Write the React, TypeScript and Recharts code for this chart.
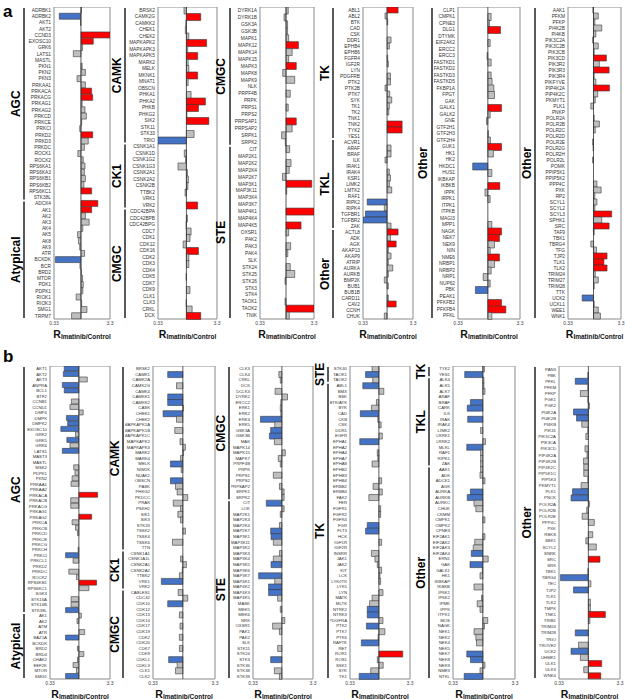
import React from "react";
import { BarChart, Bar, XAxis, YAxis, Cell, ReferenceLine, ReferenceArea } from "recharts";

// R(imatinib/control) per kinase (log axis 0.33 .. 3.3)
const a1Kinases = [
  "ADRBK1", "ADRBK2", "AKT1", "AKT2", "CCND3", "EXOSC10", "GRK6", "LATS1", "MASTL", "PKN1",
  "PKN2", "PKN3", "PRKAA1", "PRKACA", "PRKACG", "PRKAG1", "PRKAG2", "PRKCD", "PRKCE", "PRKCI",
  "PRKD2", "PRKD3", "PRKDC", "ROCK1", "ROCK2", "RPS6KA1", "RPS6KA3", "RPS6KB1", "RPS6KB2", "RPS6KC1",
  "STK38L", "ADCK4", "AK1", "AK2", "AK3", "AK4", "AK5", "AK8", "AK9", "ATR",
  "BCKDK", "BCR", "BRD2", "MTOR", "PDK1", "PDPK1", "RIOK1", "RIOK3", "SMG1", "TRPM7",
];
const a1Ratio = [
  1.02, 0.41, 0.98, 1.0, 3.3, 1.66, 1.07, 0.73, 1.0, 1.05,
  1.2, 0.85, 1.2, 1.55, 1.62, 1.05, 1.18, 1.25, 1.03, 0.95,
  1.62, 1.35, 1.15, 0.88, 1.1, 1.18, 1.15, 1.2, 1.13, 1.55,
  1.0, 2.0, 1.55, 1.2, 1.4, 1.08, 0.87, 0.9, 0.95, 1.16,
  0.35, 0.96, 1.02, 1.07, 1.1, 1.08, 0.82, 1.03, 1.28, 0.68,
];
const a1Groups: [string, number][] = [["AGC", 31], ["Atypical", 19]];

const a2Kinases = [
  "BRSK2", "CAMK2G", "CAMKK2", "CHEK1", "CHEK2", "MAPKAPK2", "MAPKAPK3", "MAPKAPK5", "MARK2", "MELK",
  "MKNK1", "MNAT1", "OBSCN", "PHKA1", "PHKA2", "PHKB", "PHKG2", "SIK2", "STK11", "STK33",
  "TRIO", "CSNK1A1", "CSNK1D", "CSNK1G2", "CSNK1G3", "CSNK2A1", "CSNK2A2", "CSNK2B", "TTBK2", "VRK1",
  "VRK2", "CDC42BPA", "CDC42BPB", "CDC42BPG", "CDC7", "CDK1", "CDK12", "CDK16", "CDK2", "CDK3",
  "CDK4", "CDK5", "CDK7", "CDK9", "CLK1", "CLK3", "CRKL", "DCK",
];
const a2Ratio = [
  0.91, 1.75, 0.98, 0.96, 1.1, 2.2, 1.05, 1.55, 1.07, 1.1,
  1.55, 1.07, 1.0, 1.2, 2.1, 1.6, 1.02, 2.4, 1.0, 1.35,
  0.33, 1.0, 0.92, 0.97, 0.72, 1.04, 1.08, 1.06, 0.95, 1.0,
  1.55, 1.0, 1.04, 0.99, 1.2, 1.15, 0.88, 1.6, 1.1, 1.1,
  1.0, 0.99, 1.0, 1.15, 1.0, 0.99, 1.25, 1.75,
];
const a2Groups: [string, number][] = [["CAMK", 21], ["CK1", 10], ["CMGC", 17]];

const a3Kinases = [
  "DYRK1A", "DYRK1B", "GSK3A", "GSK3B", "MAPK1", "MAPK12", "MAPK14", "MAPK15", "MAPK3", "MAPK8",
  "MAPK9", "NLK", "PRPF4B", "PRPK", "PRPS1", "PRPS2", "PRPSAP1", "PRPSAP2", "SRPK1", "SRPK2",
  "CIT", "MAP2K1", "MAP2K2", "MAP2K4", "MAP2K7", "MAP3K1", "MAP3K11", "MAP3K4", "MAP3K7", "MAP4K1",
  "MAP4K4", "MAP4K5", "OXSR1", "PAK2", "PAK3", "PAK4", "SLK", "STK24", "STK25", "STK26",
  "STK3", "STK4", "TAOK1", "TAOK2", "TNIK",
];
const a3Ratio = [
  1.1, 0.92, 1.07, 1.07, 1.12, 1.7, 1.3, 1.12, 1.55, 0.87,
  1.45, 1.0, 1.2, 1.0, 1.1, 1.0, 1.55, 1.3, 0.83, 0.97,
  1.17, 1.0, 1.24, 1.15, 0.86, 3.0, 1.03, 1.0, 1.0, 3.3,
  1.0, 1.9, 1.12, 1.0, 1.22, 1.08, 1.0, 1.2, 1.45, 0.96,
  1.0, 1.0, 0.96, 3.3, 1.15,
];
const a3Groups: [string, number][] = [["CMGC", 20], ["STE", 25]];

const a4Kinases = [
  "ABL1", "ABL2", "BTK", "CAD", "CSK", "DDR1", "EPHB4", "EPHB6", "FGFR4", "IGF2R",
  "LYN", "PDGFRB", "PTK2", "PTK2B", "PTK7", "SYK", "TK1", "TK2", "TNK1", "TNK2",
  "TYK2", "YES1", "ACVR1", "ARAF", "BRAF", "ILK", "IRAK1", "IRAK4", "KSR1", "LIMK2",
  "LMTK2", "RAF1", "RIPK2", "RIPK4", "TGFBR1", "TGFBR2", "ZAK", "ACTL8", "ADK", "AGK",
  "AKAP13", "AKAP9", "ATRIP", "AURKA", "AURKB", "BMP2K", "BUB1", "BUB1B", "CARD11", "CAV2",
  "CCNH", "CHUK",
];
const a4Ratio = [
  1.66, 0.91, 1.03, 1.0, 1.0, 1.2, 1.11, 1.0, 1.03, 1.06,
  1.0, 1.17, 1.17, 0.91, 1.13, 1.24, 1.11, 1.08, 1.0, 2.0,
  2.0, 1.0, 1.0, 1.2, 1.2, 0.91, 1.0, 1.11, 1.17, 1.11,
  1.24, 1.0, 0.4, 0.88, 0.37, 0.33, 1.2, 1.66, 1.17, 1.52,
  1.06, 1.2, 1.06, 1.3, 1.06, 0.88, 1.06, 1.0, 1.06, 1.52,
  1.0, 0.88,
];
const a4Groups: [string, number][] = [["TK", 22], ["TKL", 15], ["Other", 15]];

const a5Kinases = [
  "CLP1", "CMPK1", "CPNE3", "DLG1", "DTYMK", "EIF2AK2", "ERCC2", "ERCC3", "FASTKD1", "FASTKD2",
  "FASTKD3", "FASTKD5", "FKBP1A", "FPGT", "GAK", "GALK1", "GALK2", "GNE", "GTF2H1", "GTF2H3",
  "GTF2H4", "GUK1", "HK1", "HK2", "HKDC1", "HUS1", "IKBKAP", "IKBKB", "IPPK", "IRPK1",
  "ITPK1", "ITPKB", "MAGI3", "MPP1", "NAGK", "NEK7", "NEK9", "NIN", "NME6", "NRBP1",
  "NRBP2", "NRP1", "NUP62", "PBK", "PEAK1", "PFKFB2", "PFKFB4", "PFKL",
];
const a5Ratio = [
  1.0, 1.13, 1.06, 1.6, 1.0, 1.09, 1.0, 0.97, 1.13, 1.0,
  1.13, 1.17, 1.25, 1.28, 1.0, 1.66, 1.09, 0.95, 1.0, 1.02,
  1.1, 1.66, 1.23, 1.0, 0.57, 1.16, 1.0, 1.56, 0.9, 1.09,
  1.0, 1.0, 1.0, 1.16, 1.66, 1.54, 1.28, 1.09, 1.54, 1.28,
  1.13, 0.84, 1.09, 0.63, 1.0, 1.66, 1.95, 1.16,
];
const a5Groups: [string, number][] = [["Other", 48]];

const a6Kinases = [
  "AAK1", "PFKM", "PFKP", "PI4K2B", "PI4KB", "PIK3C2A", "PIK3C2B", "PIK3CB", "PIK3CD", "PIK3R2",
  "PIK3R3", "PIK3R4", "PIKFYVE", "PIP4K2A", "PIP4K2C", "PKMYT1", "PLK1", "PNKP", "POLR2A", "POLR2B",
  "POLR2C", "POLR2D", "POLR2E", "POLR2G", "POLR2H", "POLR2L", "POMK", "PPIP5K1", "PPIP5K2", "PPP4C",
  "PXK", "RP2", "SCYL1", "SCYL2", "SCYL3", "SPHK1", "SRC", "TAF9", "TBK1", "TBRG4",
  "TFG", "TJP2", "TLK1", "TLK2", "TRIM24", "TRIM27", "TRIM28", "TTK", "UCK2", "UCKL1",
  "WEE1", "WNK1",
];
const a6Ratio = [
  0.97, 1.23, 1.06, 1.43, 1.11, 0.96, 1.23, 1.03, 1.75, 1.29,
  1.97, 1.03, 1.11, 2.0, 1.2, 1.08, 0.89, 1.0, 1.03, 1.29,
  1.08, 1.0, 0.96, 0.98, 1.0, 0.96, 1.0, 1.0, 1.0, 1.16,
  1.39, 1.06, 1.16, 1.06, 2.2, 1.43, 1.97, 1.03, 1.0, 0.89,
  1.14, 1.8, 1.57, 1.8, 1.08, 1.23, 1.03, 1.0, 0.61, 1.03,
  1.23, 1.35,
];
const a6Groups: [string, number][] = [["Other", 52]];

const b1Kinases = [
  "AKT1", "AKT2", "AKT3", "ANPRA", "BCL1", "BTF2", "CCNB1", "CCND1", "DMP4", "DMPK",
  "DMPK2", "EXOSC10", "GRK2", "GRK5", "GRK6", "LATS1", "MAST3", "MASTL", "MSK2", "PDPK1",
  "PKN2", "PRKAA1", "PRKAA2", "PRKACA", "PRKACB", "PRKACG", "PRKAG1", "PRKAG2", "PRKCA", "PRKCB",
  "PRKCD", "PRKCE", "PRKCG", "PRKCH", "PRKCI", "PRKCL1", "PRKD2", "PRKDC", "ROCK2", "RPS6KB1",
  "RPS6KC1", "SGK3", "STK16A", "STK16B", "STK38L", "AK1", "AK2", "ATM", "ATR", "BAZ1A",
  "BCKDK", "BRD2", "BRD4", "CHAK2", "EEF2K", "MTOR", "SMG1",
];
const b1Ratio = [
  0.57, 0.55, 1.38, 0.53, 0.57, 1.0, 0.75, 0.71, 1.18, 0.62,
  0.65, 0.5, 0.88, 0.63, 0.71, 0.53, 1.0, 1.0, 0.82, 0.86,
  0.77, 0.74, 1.0, 2.05, 0.73, 0.73, 1.0, 1.63, 0.77, 0.88,
  0.95, 1.0, 1.0, 0.97, 0.6, 0.8, 1.0, 0.68, 0.91, 1.97,
  1.47, 1.0, 0.74, 0.74, 0.6, 1.1, 0.93, 1.0, 1.25, 0.6,
  1.0, 0.95, 1.21, 0.95, 0.8, 0.91, 0.6,
];
const b1Groups: [string, number][] = [["AGC", 45], ["Atypical", 12]];

const b2Kinases = [
  "BRSK2", "CAMK1", "CAMK2A", "CAMK2G", "CAMK4", "CAMKK1", "CAMKK2", "CASK", "CHEK1", "CHEK2",
  "MAPKAPK1A", "MAPKAPK1B", "MAPKAPK1C", "MAPKAPK2", "MAPKAPK3", "MARK2", "MARK4", "MELK", "NIM1K", "NUAK2",
  "OBSCN", "PASK", "PHKG2", "PKDCC", "PRAK", "PSKH2", "SIK1", "SIK3", "STK33", "TSSK2",
  "TSSK4", "TSSK6", "TTN", "CSNK1A1", "CSNK1A1L", "CSNK2A1", "CSNK2A2", "TTBK2", "VRK1", "VRK2",
  "CABLES1", "CDC42", "CDK10", "CDK12", "CDK13", "CDK14", "CDK17", "CDK19", "CDK2", "CDK20",
  "CDK7", "CDK9", "CDKL1", "CDKL3", "CLK1", "CLK2",
];
const b2Ratio = [
  1.0, 0.57, 1.0, 0.79, 1.0, 0.57, 0.57, 1.02, 0.48, 0.79,
  1.0, 0.74, 1.0, 0.9, 1.1, 1.02, 0.92, 0.63, 0.94, 1.0,
  0.63, 0.76, 0.81, 1.2, 0.7, 0.92, 0.83, 0.92, 1.0, 1.1,
  1.0, 0.68, 1.0, 1.0, 0.92, 1.14, 0.98, 0.88, 0.45, 1.0,
  0.84, 1.2, 0.57, 1.0, 0.88, 1.0, 0.9, 1.0, 0.88, 1.0,
  0.88, 1.0, 0.59, 0.81, 0.76, 1.0,
];
const b2Groups: [string, number][] = [["CAMK", 33], ["CK1", 7], ["CMGC", 16]];

const b3Kinases = [
  "CLK3", "CLK4", "CRKL", "DCK", "DCLK3", "DYRK2", "ERCC2", "ERK1", "ERK2", "ERK3",
  "ERK5", "GSK3A", "GSK3B", "MAK", "MAPK14", "MAPK15", "MAPK7", "PRPF4B", "PRPK", "PRPS1",
  "PRPS2", "PRPSAP2", "SRPK1", "SRPK2", "CIT", "LOK", "MAP2K1", "MAP2K3", "MAP2K4", "MAP2K7",
  "MAP3K1", "MAP3K11", "MAP3K2", "MAP3K3", "MAP3K4", "MAP3K5", "MAP3K6", "MAP3K7", "MAP4K1", "MAP4K2",
  "MAP4K3", "MAP4K5", "MASK", "MEK5", "MEK6", "NRK", "OXSR1", "PAK1", "PAK2", "SLK",
  "STK11", "STK24", "STK3", "STK36", "STK38", "STK39",
];
const b3Ratio = [
  1.0, 0.89, 0.94, 1.0, 0.77, 1.24, 0.96, 0.94, 0.96, 0.44,
  0.76, 0.65, 0.62, 0.75, 1.0, 1.14, 0.87, 0.94, 1.0, 0.72,
  1.0, 0.91, 1.09, 1.09, 0.55, 1.09, 0.94, 1.0, 0.91, 0.65,
  0.66, 0.72, 1.0, 0.91, 0.72, 0.66, 1.0, 0.41, 0.76, 0.6,
  0.6, 0.85, 1.0, 0.94, 1.0, 1.12, 0.7, 0.91, 1.0, 1.0,
  0.85, 1.0, 0.65, 1.0, 0.75, 0.91,
];
const b3Groups: [string, number][] = [["CMGC", 24], ["STE", 32]];

const b4Kinases = [
  "STK40", "TAOK1", "TAOK2", "ABL1", "BMX", "BSK", "BTK/ATK", "BYK", "CAD", "CKB",
  "CSK", "DDR1", "EGFR", "EPHA1", "EPHA2", "EPHA4", "EPHA7", "EPHA8", "EPHB2", "EPHB3",
  "EPHB4", "ERBB2", "ERBB4", "FAK2", "FER", "FGFR1", "FGFR2", "FGFR4", "FGR", "FLT3",
  "HCK", "IGF1R", "IGF2R", "INSRR", "JAK1", "JAK2", "KIT", "LCK", "LYK/ITK", "LYK5",
  "LYN", "MATK", "MLTK", "NTRK2", "NTRK3", "PDGFRA", "PTK2", "PTK7", "PTK6", "RAFTK",
  "RET", "ROR1", "ROS1", "SSK1", "SYK", "TK1",
];
const b4Ratio = [
  0.77, 0.6, 0.79, 0.54, 1.21, 1.0, 0.91, 0.75, 0.49, 0.96,
  1.09, 1.0, 1.14, 0.48, 1.0, 0.94, 0.96, 0.77, 1.0, 1.0,
  1.11, 0.8, 1.14, 0.68, 1.0, 1.07, 1.07, 1.0, 0.64, 0.6,
  1.0, 1.11, 1.0, 0.75, 0.86, 0.94, 1.11, 1.04, 1.07, 1.0,
  1.17, 0.77, 0.7, 0.64, 0.64, 1.17, 0.62, 1.26, 0.97, 0.51,
  1.0, 2.5, 0.94, 1.18, 0.73, 0.47,
];
const b4Groups: [string, number][] = [["STE", 3], ["TK", 53]];

const b5Kinases = [
  "TYK2", "YES1", "ALK4", "ALK5", "ALK7", "ARAF", "BRAF", "CARK", "ILK", "IRAK",
  "IRAK4", "LIMK2", "LRRK1", "LRRK2", "MLKL", "RAF1", "RIPK1", "ZAK", "AAK1", "ADK",
  "ADCK1", "AGK", "AURKA", "AURKB", "AURKC", "CHUK", "CKMM", "CMPK1", "CMPK2", "CPNE3",
  "EIF2AK1", "EIF2AK2", "EIF2AK3", "EIF2AK4", "ERN1", "GAK", "GALK1", "HK1", "IKBKAP", "IKBKB",
  "IP6K1", "IP6K2", "IPMK", "IPPK", "ITPK1", "MOS", "NAGK", "NEK1", "NEK2", "NEK4",
  "NEK5", "NEK7", "NEK8", "NEK9", "NME3", "NTKL",
];
const b5Ratio = [
  1.06, 0.51, 1.04, 1.04, 1.08, 1.0, 0.63, 0.56, 1.0, 0.57,
  1.0, 0.92, 1.0, 1.1, 0.55, 0.92, 0.92, 0.92, 0.92, 0.9,
  1.08, 1.0, 0.63, 0.56, 0.72, 0.77, 1.0, 1.08, 1.0, 1.0,
  1.08, 0.74, 0.7, 0.65, 1.22, 0.62, 0.98, 0.9, 1.0, 0.72,
  1.0, 0.95, 0.81, 0.9, 1.0, 1.2, 1.06, 0.72, 0.77, 0.79,
  1.0, 0.55, 0.63, 1.08, 0.9, 0.5,
];
const b5Groups: [string, number][] = [["TK", 2], ["TKL", 16], ["Other", 38]];

const b6Kinases = [
  "PAN3", "PBK", "PFKL", "PFKM", "PFKP", "PGK1", "PGK2", "PI4K2A", "PI4K2B", "PI4KB",
  "PIK31", "PIK3C2A", "PIK3CA", "PIK3CD", "PIP4K2A", "PIP4K2B", "PIP4K2C", "PIP5K1C", "PIP5K3", "PKMYT1",
  "PLK1", "PNCK", "POLR2A", "POLR2B", "POLR2E", "PPP4C", "PXK", "RBKS", "SBK1", "SCYL2",
  "SNRK", "SRC", "SRK", "TBK1", "TBRG4", "TEC", "TJP2", "TLK1", "TLK2", "TMPK",
  "TNK1", "TRIB1", "TRIM24", "TRIM28", "TRIO", "TROVE2", "UCK2", "UHMK1", "ULK1", "ULK3",
  "WNK4",
];
const b6Ratio = [
  1.0, 0.98, 0.61, 0.98, 0.74, 0.98, 1.04, 0.57, 0.64, 0.78,
  0.98, 0.91, 1.0, 0.88, 0.95, 0.83, 0.84, 0.84, 0.98, 0.76,
  0.55, 0.52, 1.04, 0.94, 0.79, 1.25, 1.0, 1.18, 0.91, 1.35,
  1.0, 1.55, 1.0, 0.98, 0.35, 1.1, 0.57, 1.0, 1.08, 1.08,
  1.9, 1.06, 1.0, 0.61, 1.0, 0.69, 0.52, 0.74, 1.65, 0.84,
  1.6,
];
const b6Groups: [string, number][] = [["Other", 51]];

const xTickLabels = ["0.33", "3.3"];

const LO = Math.log10(0.33);
const HI = Math.log10(3.3);

const RED = "#ff0000";
const BLUE = "#4472c4";
const GRAY = "#bfbfbf";
const barColor = (r: number) => (r >= 1.5 ? RED : r <= 0.667 ? BLUE : GRAY);

type Sub = {
  names: string[];
  ratio: number[];
  groups: [string, number][];
  left: number;
  right: number;
  top: number;
  bottom: number;
  lineX: number;
  textX: number;
  fs: number;
};

const A_TOP = 7, A_BOTTOM = 319, B_TOP = 366, B_BOTTOM = 679;

const subs: Sub[] = [
  { names: a1Kinases, ratio: a1Ratio, groups: a1Groups, left: 54, right: 110, top: A_TOP, bottom: A_BOTTOM, lineX: 24, textX: 16, fs: 4.8 },
  { names: a2Kinases, ratio: a2Ratio, groups: a2Groups, left: 158, right: 217, top: A_TOP, bottom: A_BOTTOM, lineX: 125, textX: 117, fs: 4.8 },
  { names: a3Kinases, ratio: a3Ratio, groups: a3Groups, left: 260, right: 314, top: A_TOP, bottom: A_BOTTOM, lineX: 230, textX: 221, fs: 4.8 },
  { names: a4Kinases, ratio: a4Ratio, groups: a4Groups, left: 363, right: 413, top: A_TOP, bottom: A_BOTTOM, lineX: 333, textX: 325, fs: 4.8 },
  { names: a5Kinases, ratio: a5Ratio, groups: a5Groups, left: 458, right: 520, top: A_TOP, bottom: A_BOTTOM, lineX: 432, textX: 423, fs: 4.8 },
  { names: a6Kinases, ratio: a6Ratio, groups: a6Groups, left: 568, right: 621, top: A_TOP, bottom: A_BOTTOM, lineX: 535, textX: 527, fs: 4.8 },
  { names: b1Kinases, ratio: b1Ratio, groups: b1Groups, left: 50, right: 110, top: B_TOP, bottom: B_BOTTOM, lineX: 24, textX: 16, fs: 4.3 },
  { names: b2Kinases, ratio: b2Ratio, groups: b2Groups, left: 153, right: 215, top: B_TOP, bottom: B_BOTTOM, lineX: 123, textX: 115, fs: 4.3 },
  { names: b3Kinases, ratio: b3Ratio, groups: b3Groups, left: 253, right: 313, top: B_TOP, bottom: B_BOTTOM, lineX: 229, textX: 221, fs: 4.3 },
  { names: b4Kinases, ratio: b4Ratio, groups: b4Groups, left: 350, right: 410, top: B_TOP, bottom: B_BOTTOM, lineX: 328, textX: 320, fs: 4.3 },
  { names: b5Kinases, ratio: b5Ratio, groups: b5Groups, left: 453, right: 515, top: B_TOP, bottom: B_BOTTOM, lineX: 429, textX: 421, fs: 4.3 },
  { names: b6Kinases, ratio: b6Ratio, groups: b6Groups, left: 559, right: 620, top: B_TOP, bottom: B_BOTTOM, lineX: 535, textX: 527, fs: 4.3 },
];

const X_AXIS_H = 12;
const RIGHT_PAD = 6;

function SubChart({ s }: { s: Sub }) {
  const rows = s.names.map((name, i) => ({ name, v: Math.log10(s.ratio[i]), r: s.ratio[i] }));
  const labelW = s.left - s.lineX - 2;
  const plotW = s.right - s.left;
  const plotH = s.bottom - s.top;
  return (
    <div style={{ position: "absolute", left: s.left - labelW, top: s.top }}>
      <BarChart
        width={labelW + plotW + RIGHT_PAD}
        height={plotH + X_AXIS_H}
        data={rows}
        layout="vertical"
        margin={{ top: 0, right: RIGHT_PAD, bottom: 0, left: 0 }}
        barCategoryGap={0}
      >
        <XAxis
          type="number"
          domain={[LO, HI]}
          ticks={[LO, HI]}
          tickFormatter={(v: number) => (v < 0 ? xTickLabels[0] : xTickLabels[1])}
          allowDataOverflow
          axisLine={false}
          tickLine={false}
          tickSize={0}
          tickMargin={2}
          height={X_AXIS_H}
          interval={0}
          tick={{ fontSize: 5, fill: "#444" }}
        />
        <YAxis
          type="category"
          dataKey="name"
          width={labelW}
          interval={0}
          axisLine={false}
          tickLine={false}
          tickSize={0}
          tickMargin={3}
          tick={{ fontSize: s.fs, fill: "#333" }}
        />
        <ReferenceArea x1={LO} x2={HI} fill="none" stroke="#8a8a8a" strokeWidth={1} />
        <Bar dataKey="v" isAnimationActive={false} stroke="#3a3a3a" strokeWidth={0.6}>
          {rows.map((d) => (
            <Cell key={d.name} fill={barColor(d.r)} />
          ))}
        </Bar>
        <ReferenceLine x={0} stroke="#333" strokeWidth={0.8} />
      </BarChart>
    </div>
  );
}

function Annotations() {
  return (
    <svg
      width={625}
      height={699}
      style={{ position: "absolute", left: 0, top: 0, pointerEvents: "none" }}
    >
      <text x={3} y={17} fontSize={17} fontWeight="bold" fill="#000">a</text>
      <text x={3} y={362} fontSize={17} fontWeight="bold" fill="#000">b</text>
      {subs.map((s, k) => {
        const rowH = (s.bottom - s.top) / s.names.length;
        let start = 0;
        const cx = (s.left + s.right) / 2;
        return (
          <g key={k}>
            {s.groups.map(([label, count]) => {
              const y1 = s.top + start * rowH + 1;
              const y2 = s.top + (start + count) * rowH - 1;
              start += count;
              const my = (y1 + y2) / 2;
              return (
                <g key={label}>
                  <line x1={s.lineX} x2={s.lineX} y1={y1} y2={y2} stroke="#000" strokeWidth={1.3} />
                  <text
                    x={s.textX}
                    y={my}
                    transform={`rotate(-90 ${s.textX} ${my})`}
                    textAnchor="middle"
                    dominantBaseline="central"
                    fontSize={12}
                    fontWeight="bold"
                    fill="#000"
                  >
                    {label}
                  </text>
                </g>
              );
            })}
            <text x={cx} y={s.bottom + 19} textAnchor="middle" fontWeight="bold" fill="#111">
              <tspan fontSize={10.5}>R</tspan>
              <tspan fontSize={6.5} dy={1}>Imatinib/Control</tspan>
            </text>
          </g>
        );
      })}
    </svg>
  );
}

export default function App() {
  return (
    <div
      style={{
        position: "absolute",
        left: 0,
        top: 0,
        width: 625,
        height: 699,
        background: "#fff",
        fontFamily: "'Liberation Sans', Arial, sans-serif",
      }}
    >
      {subs.map((s, i) => (
        <SubChart key={i} s={s} />
      ))}
      <Annotations />
    </div>
  );
}
